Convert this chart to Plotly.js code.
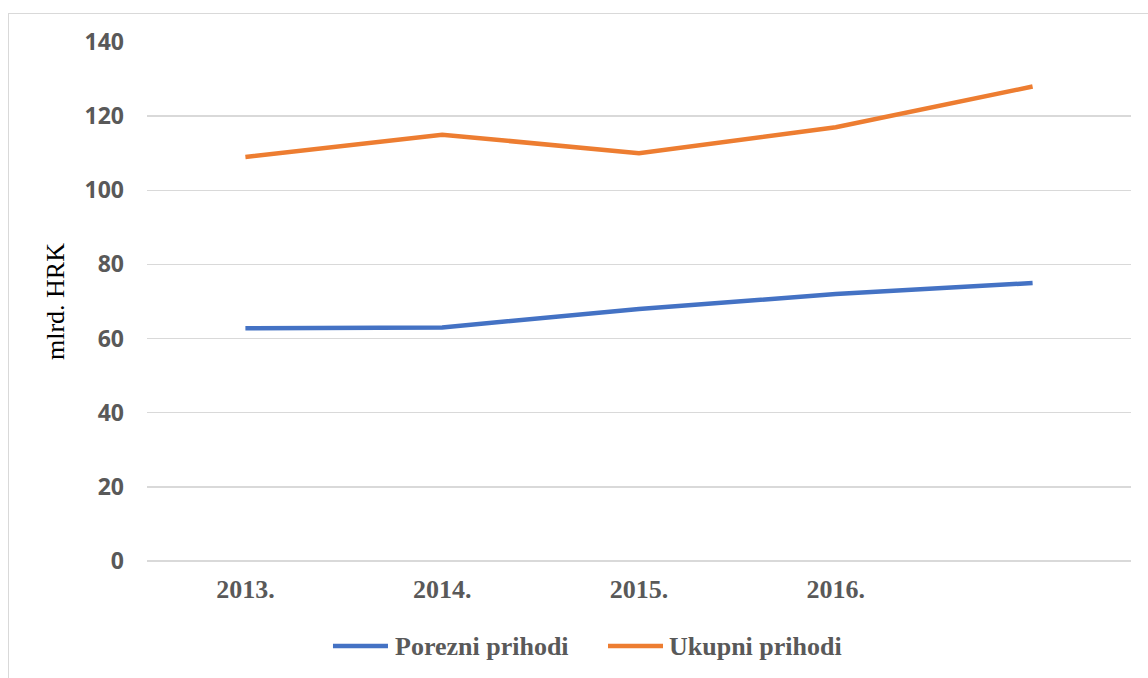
<!DOCTYPE html>
<html>
<head>
<meta charset="utf-8">
<script src="https://cdn.plot.ly/plotly-3.0.1.min.js"></script>
<style>
  html, body { margin: 0; padding: 0; background: #fff; }
  #wrap { position: relative; width: 1148px; height: 678px; overflow: hidden; }
  #frame { position: absolute; left: 8px; top: 13px; width: 1200px; height: 700px;
           border-left: 1.5px solid #D9D9D9; border-top: 1.5px solid #D9D9D9; box-sizing: border-box; }
  #chart { position: absolute; left: 0; top: 0; width: 1148px; height: 678px; }
</style>
</head>
<body>
<div id="wrap">
  <div id="frame"></div>
  <div id="chart"></div>
</div>
<script>
// Data
const categories = ["2013.", "2014.", "2015.", "2016.", ""];
const porezniPrihodi = [62.8, 63, 68, 72, 75];
const ukupniPrihodi = [109, 115, 110, 117, 128];
const seriesNames = ["Porezni prihodi", "Ukupni prihodi"];
const seriesColors = ["#4472C4", "#ED7D31"];
const yTicks = [0, 20, 40, 60, 80, 100, 120, 140];

const xIdx = categories.map((_, i) => i);

const traces = [
  {
    x: xIdx, y: porezniPrihodi, name: seriesNames[0], type: "scatter", mode: "lines",
    line: { color: seriesColors[0], width: 4.5 }
  },
  {
    x: xIdx, y: ukupniPrihodi, name: seriesNames[1], type: "scatter", mode: "lines",
    line: { color: seriesColors[1], width: 4.5 }
  }
];

// Custom legend (longer line samples, as in the reference)
const legendY = -0.1638;
const legendItems = [
  { x0: 0.1890, x1: 0.2449, tx: 0.2500 },
  { x0: 0.4685, x1: 0.5244, tx: 0.5285 }
];
const shapes = legendItems.map((it, i) => ({
  type: "line", xref: "paper", yref: "paper",
  x0: it.x0, x1: it.x1, y0: legendY, y1: legendY,
  line: { color: seriesColors[i], width: 4.5 }
}));
const annotations = legendItems.map((it, i) => ({
  xref: "paper", yref: "paper", x: it.tx, y: legendY,
  xanchor: "left", yanchor: "middle", showarrow: false,
  text: seriesNames[i],
  font: { family: "Liberation Serif", size: 26, color: "#595959", weight: "bold" }
}));

const layout = {
  width: 1148, height: 678,
  margin: { l: 147, r: 17, t: 42, b: 117 },
  paper_bgcolor: "rgba(0,0,0,0)",
  plot_bgcolor: "rgba(0,0,0,0)",
  showlegend: false,
  shapes: shapes,
  annotations: annotations,
  xaxis: {
    range: [-0.5, 4.5],
    tickmode: "array", tickvals: xIdx, ticktext: categories,
    showgrid: false, zeroline: false, showline: false, ticks: "",
    ticklabelstandoff: 10,
    tickfont: { family: "Liberation Serif", size: 26, color: "#595959", weight: "bold" },
    fixedrange: true
  },
  yaxis: {
    range: [0, 140],
    tickmode: "array", tickvals: yTicks, ticktext: yTicks.map(String),
    showgrid: true, gridcolor: "#D9D9D9", gridwidth: 1.5,
    zeroline: true, zerolinecolor: "#D9D9D9", zerolinewidth: 1.5,
    showline: false, ticks: "",
    ticklabelstandoff: 22,
    tickfont: { family: "Open Sans", size: 23, color: "#595959", weight: "bold" },
    title: { text: "mlrd. HRK", font: { family: "Liberation Serif", size: 26, color: "#000000" }, standoff: 12 },
    fixedrange: true
  }
};

Plotly.newPlot("chart", traces, layout, { displayModeBar: false, staticPlot: true });
</script>
</body>
</html>
